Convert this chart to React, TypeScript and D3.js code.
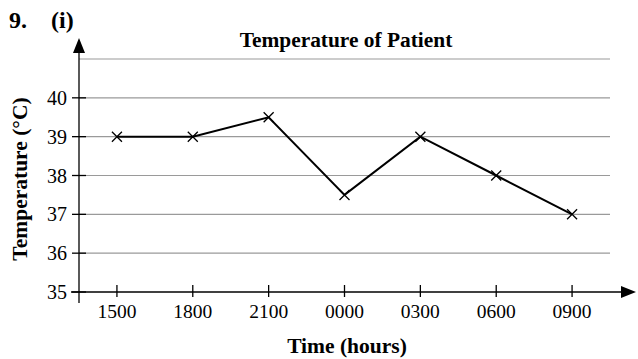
import { useEffect, useRef } from 'react';
import * as d3 from 'd3';

const times = ['1500', '1800', '2100', '0000', '0300', '0600', '0900'];
const temps = [39, 39, 39.5, 37.5, 39, 38, 37];
const yTicks = [35, 36, 37, 38, 39, 40];
const gridValues = [36, 37, 38, 39, 40, 41];

const W = 638;
const H = 359;
const FONT = '"Liberation Serif", "Times New Roman", serif';

export default function App() {
  const svgRef = useRef<SVGSVGElement>(null);

  useEffect(() => {
    if (!svgRef.current) return;
    const svg = d3.select(svgRef.current);
    svg.selectAll('*').remove();

    const left = 79;
    const right = 610;
    const x = d3.scalePoint<string>().domain(times).range([left, right]).padding(0.5);
    const y = d3.scaleLinear().domain([35, 41]).range([292, 59]);

    // grid lines
    svg.append('g')
      .selectAll('line')
      .data(gridValues)
      .enter()
      .append('line')
      .attr('x1', left)
      .attr('x2', right)
      .attr('y1', d => y(d))
      .attr('y2', d => y(d))
      .attr('stroke', '#9a9a9a')
      .attr('stroke-width', 1.2);

    // y axis line + arrow
    svg.append('line')
      .attr('x1', left).attr('x2', left)
      .attr('y1', 303).attr('y2', 50)
      .attr('stroke', '#000').attr('stroke-width', 1.3);
    svg.append('path')
      .attr('d', `M${left},38 L${left - 6},53 L${left + 6},53 Z`)
      .attr('fill', '#000');

    // x axis line + arrow
    svg.append('line')
      .attr('x1', 71).attr('x2', 626)
      .attr('y1', y(35)).attr('y2', y(35))
      .attr('stroke', '#000').attr('stroke-width', 1.3);
    svg.append('path')
      .attr('d', `M636,${y(35)} L621,${y(35) - 6} L621,${y(35) + 6} Z`)
      .attr('fill', '#000');

    // y ticks
    const yt = svg.append('g');
    yTicks.forEach(t => {
      yt.append('line')
        .attr('x1', left - 7).attr('x2', left + 7)
        .attr('y1', y(t)).attr('y2', y(t))
        .attr('stroke', '#000').attr('stroke-width', 1.3);
      yt.append('text')
        .attr('x', left - 12)
        .attr('y', y(t))
        .attr('dy', '0.35em')
        .attr('text-anchor', 'end')
        .attr('font-family', FONT)
        .attr('font-size', 20)
        .text(t);
    });

    // x ticks
    const xt = svg.append('g');
    times.forEach(t => {
      const px = x(t)!;
      xt.append('line')
        .attr('x1', px).attr('x2', px)
        .attr('y1', y(35) - 7).attr('y2', y(35) + 5)
        .attr('stroke', '#000').attr('stroke-width', 1.3);
      xt.append('text')
        .attr('x', px)
        .attr('y', 318)
        .attr('text-anchor', 'middle')
        .attr('font-family', FONT)
        .attr('font-size', 19.5)
        .text(t);
    });

    // data line
    const line = d3.line<number>()
      .x((_, i) => x(times[i])!)
      .y(d => y(d));
    svg.append('path')
      .datum(temps)
      .attr('d', line)
      .attr('fill', 'none')
      .attr('stroke', '#000')
      .attr('stroke-width', 2);

    // cross markers
    const s = 5;
    svg.append('g')
      .selectAll('path')
      .data(temps)
      .enter()
      .append('path')
      .attr('d', (d, i) => {
        const px = x(times[i])!;
        const py = y(d);
        return `M${px - s},${py - s}L${px + s},${py + s}M${px - s},${py + s}L${px + s},${py - s}`;
      })
      .attr('stroke', '#000')
      .attr('stroke-width', 1.3);

    // titles
    svg.append('text')
      .attr('x', 346).attr('y', 47)
      .attr('text-anchor', 'middle')
      .attr('font-family', FONT)
      .attr('font-weight', 'bold')
      .attr('font-size', 21.4)
      .text('Temperature of Patient');

    svg.append('text')
      .attr('x', 347).attr('y', 353)
      .attr('text-anchor', 'middle')
      .attr('font-family', FONT)
      .attr('font-weight', 'bold')
      .attr('font-size', 21.5)
      .text('Time (hours)');

    svg.append('text')
      .attr('transform', 'translate(27,179) rotate(-90)')
      .attr('text-anchor', 'middle')
      .attr('font-family', FONT)
      .attr('font-weight', 'bold')
      .attr('font-size', 21.5)
      .text('Temperature (°C)');

    svg.append('text')
      .attr('x', 9).attr('y', 28)
      .attr('font-family', FONT)
      .attr('font-weight', 'bold')
      .attr('font-size', 24)
      .text('9.');
    svg.append('text')
      .attr('x', 51).attr('y', 28)
      .attr('font-family', FONT)
      .attr('font-weight', 'bold')
      .attr('font-size', 24)
      .text('(i)');
  }, []);

  return (
    <svg
      ref={svgRef}
      width={W}
      height={H}
      style={{ position: 'absolute', left: 0, top: 0, background: '#fff' }}
    />
  );
}
